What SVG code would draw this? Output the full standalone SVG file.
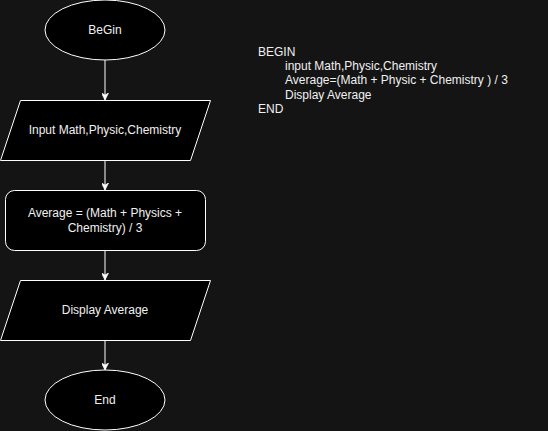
<svg xmlns="http://www.w3.org/2000/svg" width="548" height="431" viewBox="0 0 548 431">
<style>
.shape{fill:#000;stroke:#fff;stroke-width:1}
.t{font-family:"Liberation Sans",Arial,sans-serif;font-size:12px;fill:#f0f0f0}
.c{text-anchor:middle}
.edge{stroke:#fff;stroke-width:1;fill:none}
</style>
<defs>
<marker id="arr" viewBox="0 0 10 10" refX="10" refY="5" markerWidth="7" markerHeight="7" markerUnits="userSpaceOnUse" orient="auto">
<path d="M0,0 L10,5 L0,10 L3,5 Z" fill="#fff" stroke="#fff"/>
</marker>
</defs>
<rect width="548" height="431" fill="#141414"/>
<g id="connectors">
<line class="edge" x1="105" y1="60" x2="105" y2="100" marker-end="url(#arr)"/>
<line class="edge" x1="105" y1="160" x2="105" y2="190" marker-end="url(#arr)"/>
<line class="edge" x1="105" y1="250" x2="105" y2="280" marker-end="url(#arr)"/>
<line class="edge" x1="105" y1="340" x2="105" y2="370" marker-end="url(#arr)"/>
</g>
<g id="begin">
<ellipse class="shape" cx="105" cy="30" rx="60" ry="30"/>
<text class="t c" x="105" y="34">BeGin</text>
</g>
<g id="input">
<polygon class="shape" points="20.5,100.5 210.5,100.5 190.5,160.5 0.5,160.5"/>
<text class="t c" x="105" y="134">Input Math,Physic,Chemistry</text>
</g>
<g id="average">
<rect class="shape" x="5.5" y="190.5" width="200" height="60" rx="9" ry="9"/>
<text class="t c" x="105" y="217">Average = (Math + Physics +</text>
<text class="t c" x="105" y="232">Chemistry) / 3</text>
</g>
<g id="display">
<polygon class="shape" points="20.5,280.5 210.5,280.5 190.5,340.5 0.5,340.5"/>
<text class="t c" x="105" y="314">Display Average</text>
</g>
<g id="end">
<ellipse class="shape" cx="105" cy="400" rx="60" ry="30"/>
<text class="t c" x="105" y="404">End</text>
</g>
<g id="pseudocode">
<text class="t" x="258" y="56">BEGIN</text>
<text class="t" x="285" y="70">input Math,Physic,Chemistry</text>
<text class="t" x="285" y="84">Average=(Math + Physic + Chemistry ) / 3</text>
<text class="t" x="285" y="98.5">Display Average</text>
<text class="t" x="258" y="113">END</text>
</g>
</svg>
